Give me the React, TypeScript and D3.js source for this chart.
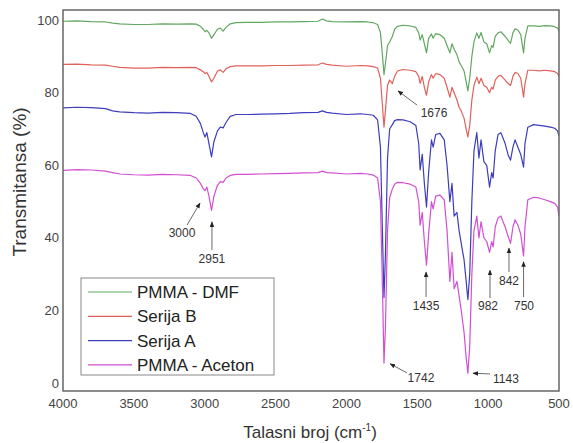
import React from 'react';
import * as d3 from 'd3';

// wavenumber grid (cm-1), shared by all four spectra
const wavenumbers = [
  4000, 3900, 3800, 3700, 3650, 3600, 3500, 3400, 3300, 3200, 3100, 3060, 3030, 3010, 2998, 2985, 2970, 2952, 2935, 2910,
  2890, 2870, 2850, 2820, 2780, 2700, 2600, 2500, 2400, 2300, 2200, 2170, 2140, 2100, 2000, 1900, 1850, 1810, 1780, 1760,
  1745, 1735, 1725, 1710, 1695, 1676, 1660, 1640, 1600, 1550, 1510, 1490, 1480, 1465, 1450, 1435, 1420, 1400, 1388, 1370,
  1340, 1310, 1290, 1270, 1255, 1240, 1220, 1205, 1190, 1170, 1155, 1143, 1130, 1115, 1100, 1080, 1065, 1050, 1030, 1010,
  990, 975, 965, 950, 930, 910, 880, 860, 842, 825, 810, 790, 770, 750, 740, 720, 680, 640, 600, 560, 530, 510, 500,
];

const pmmaDmf = [
  99.7, 99.8, 99.6, 99.5, 99.2, 99.0, 98.8, 98.8, 99.0, 98.9, 99.0, 98.9, 98.3, 97.5, 96.8, 97.2, 96.5, 95.0, 96.0, 97.5,
  97.8, 97.0, 98.0, 99.0, 99.3, 99.4, 99.4, 99.5, 99.5, 99.6, 99.7, 100.3, 99.8, 99.6, 99.5, 99.6, 99.5, 99.3, 98.8, 96.5,
  90, 85, 88, 93, 94, 95.5, 97.5, 98.3, 98.6, 98.4, 98.0, 96.5, 94.5, 96.0, 93.5, 91.0, 95, 96.2, 95.0, 96.3,
  96.0, 95.0, 93.0, 91.0, 93.5, 92.0, 90.5, 88.5, 87.5, 86, 83, 80.5, 84, 90, 94, 96.5, 95, 96.6, 94, 93.5,
  91, 93, 92.5, 95.5, 96.5, 96.8, 95.5, 94.5, 93.6, 96.5, 97.6, 97.3, 96, 91, 95, 98.4, 98.4, 98.3, 98.5, 98.4, 98.2, 97.8, 97.0,
];

const serijaB = [
  87.8, 87.9, 87.7, 87.6, 87.3, 87.0, 86.8, 86.8, 87.0, 86.9, 87.0, 86.9, 86.3, 85.8, 85.3, 85.6, 84.5, 83.0, 84.0, 86.0,
  86.3, 85.6, 86.6, 87.2, 87.4, 87.4, 87.4, 87.5, 87.5, 87.6, 87.7, 88.2, 87.8, 87.6, 87.3, 87.5, 87.4, 87.2, 86.8, 84,
  76, 70.5, 75, 82, 83.5, 82.5, 84.5, 86.0, 86.4, 86.2, 85.8, 84.5, 82.6, 84.5, 81.5, 79.3, 83, 85, 84, 85.3,
  85, 84, 81.5, 78.8, 81.5, 80, 78, 76, 75, 73, 70, 67.8, 71, 78, 82, 84.3, 82.5, 84, 82, 81.5,
  80, 81.5, 81, 83.5, 84.5, 84.8, 83.5, 82.6, 82, 84.5, 85.6, 85.3, 84, 78.8, 82.5, 86.2, 86.2, 86, 86.2, 86, 85.8, 85.3, 84.5,
];

const serijaA = [
  75.8, 76.0, 75.9, 75.6, 75.0, 74.7, 74.5, 74.4, 74.6, 74.5, 74.3, 73.5, 71.5, 69.0, 67.8, 69.0, 66.0, 62.3, 66.5, 69.5,
  70.5, 70.3, 71.8, 73.5, 74.0, 74.0, 74.1, 74.2, 74.3, 74.5, 74.6, 75.0, 74.6, 74.4, 74.0, 74.2, 74.0, 73.8, 72.5, 65,
  40, 23.5, 35, 62, 70, 71.2, 72.3, 72.6, 72.5, 72.0, 71.0, 66, 58.7, 63, 55, 48.5, 58, 67, 65, 68.5,
  68.8, 67, 60, 50, 55, 46, 47, 42, 38.5, 34, 28, 23, 30, 50, 64, 69, 62, 67, 61, 60,
  54, 58, 56.5, 64, 68.5, 69, 66, 63, 61.4, 65, 67, 65, 63, 59.5, 66, 70.5, 71.2, 71, 70.8, 70.5, 70.2, 69.5, 68,
];

const pmmaAceton = [
  58.6, 58.8, 58.7, 58.4, 58.0, 57.6, 57.4, 57.3, 57.5, 57.4, 57.2, 56.5, 55.0, 53.5, 53.0, 54.0, 51.5, 47.6, 51.5, 54.5,
  55.5, 55.3, 56.5, 57.2, 57.5, 57.5, 57.6, 57.7, 57.8, 57.9, 58.0, 58.4, 58.0, 57.9, 57.6, 57.8, 57.6, 57.3, 56.5, 50,
  25, 5.5, 15, 42, 51, 53.5, 54.8, 55.3, 55.2, 54.8, 54.0, 50, 43.5, 47, 39, 32.5, 41, 50, 48, 51.5,
  51.8, 50.5, 42, 28, 36, 26, 28, 24, 20, 14, 7, 2.7, 10, 30, 42, 46, 40, 44.5, 40, 39,
  36, 39, 37.5, 43, 45.5, 46, 43, 40.5, 38.5, 43, 45, 43.5, 41, 35, 43, 50.5, 51.2, 51, 50.5, 50, 49.5, 48.5, 46,
];

const seriesNames = ['PMMA - DMF', 'Serija B', 'Serija A', 'PMMA - Aceton'];
const seriesValues = [pmmaDmf, serijaB, serijaA, pmmaAceton];
const seriesColors = ['#62a862', '#e0615c', '#3d3dbd', '#d24fd2'];

const xTicks = [4000, 3500, 3000, 2500, 2000, 1500, 1000, 500];
const yTicks = [0, 20, 40, 60, 80, 100];

// peak labels: text, label position (wn, T), arrow from -> to (wn, T)
const peakLabels = ['3000', '2951', '1676', '1742', '1435', '1143', '982', '842', '750'];
const peakLabelAt = [[3160, 41.3], [2949, 34.2], [1382, 74.4], [1474, 1.4], [1438, 21.2], [874, 1.1], [1001, 21.2], [853, 28.1], [747, 21.2]];
const peakArrows = [
  [[3125, 43.5], [3033, 49.6]],
  [[2949, 36.7], [2949, 44.4]],
  [[1502, 76.6], [1636, 80.5]],
  [[1573, 2.8], [1692, 5.3]],
  [[1438, 23.7], [1438, 30.6]],
  [[987, 2.5], [1107, 2.7]],
  [[987, 23.4], [987, 31.1]],
  [[853, 30.6], [853, 37.2]],
  [[750, 23.7], [750, 33.4]],
];

const W = 573;
const H = 443;
const margin = { top: 10, right: 14, bottom: 52, left: 63 };
const font = '"Liberation Sans", Arial, sans-serif';

export default function App() {
  const x = d3.scaleLinear().domain([4000, 500]).range([margin.left, W - margin.right]);
  const y = d3.scaleLinear().domain([-2.2, 102.8]).range([H - margin.bottom, margin.top]);

  const line = d3.line<number>()
    .x((_, i) => x(wavenumbers[i]))
    .y((d) => y(d));

  const legendX = 81, legendY = 278, legendW = 193, legendH = 97;

  return (
    <svg width={W} height={H} style={{ position: 'absolute', left: 0, top: 0, background: '#fff' }} fontFamily={font}>
      <defs>
        <marker id="head" viewBox="0 0 10 10" refX="9" refY="5" markerWidth="7" markerHeight="7" orient="auto">
          <path d="M0,1 L10,5 L0,9 z" fill="#222" />
        </marker>
        <clipPath id="plot">
          <rect x={margin.left} y={margin.top} width={W - margin.left - margin.right} height={H - margin.top - margin.bottom} />
        </clipPath>
      </defs>

      <g clipPath="url(#plot)">
        {seriesValues.map((vals, i) => (
          <path key={i} d={line(vals) || ''} fill="none" stroke={seriesColors[i]} strokeWidth={1.2} strokeLinejoin="round" />
        ))}
      </g>

      <rect x={margin.left} y={margin.top} width={W - margin.left - margin.right} height={H - margin.top - margin.bottom}
        fill="none" stroke="#666" strokeWidth={1.5} />

      {xTicks.map((t) => (
        <text key={t} x={x(t)} y={408} textAnchor="middle" fontSize={13} fill="#444">{t}</text>
      ))}
      {yTicks.map((t) => (
        <text key={t} x={59} y={y(t)} dy="0.35em" textAnchor="end" fontSize={13} fill="#444">{t}</text>
      ))}

      <text transform={`translate(19,182) rotate(-90)`} textAnchor="middle" dy="0.35em" fontSize={19} fill="#333">Transmitansa (%)</text>
      <text x={310} y={438} textAnchor="middle" fontSize={17} fill="#333">
        Talasni broj (cm<tspan fontSize={10} dy={-7}>-1</tspan><tspan dy={7}>)</tspan>
      </text>

      {peakArrows.map((a, i) => (
        <line key={'a' + i} x1={x(a[0][0])} y1={y(a[0][1])} x2={x(a[1][0])} y2={y(a[1][1])}
          stroke="#444" strokeWidth={0.8} markerEnd="url(#head)" />
      ))}
      {peakLabels.map((l, i) => (
        <text key={l} x={x(peakLabelAt[i][0])} y={y(peakLabelAt[i][1])} dy="0.35em" textAnchor="middle" fontSize={12} fill="#333">{l}</text>
      ))}

      <rect x={legendX} y={legendY} width={legendW} height={legendH} fill="#fff" stroke="#888" strokeWidth={1} />
      {seriesNames.map((n, i) => {
        const ly = legendY + 14 + i * 24.3;
        return (
          <g key={n}>
            <line x1={legendX + 7} x2={legendX + 51} y1={ly} y2={ly} stroke={seriesColors[i]} strokeWidth={1.2} />
            <text x={legendX + 56} y={ly} dy="0.35em" fontSize={17} fill="#222">{n}</text>
          </g>
        );
      })}
    </svg>
  );
}
